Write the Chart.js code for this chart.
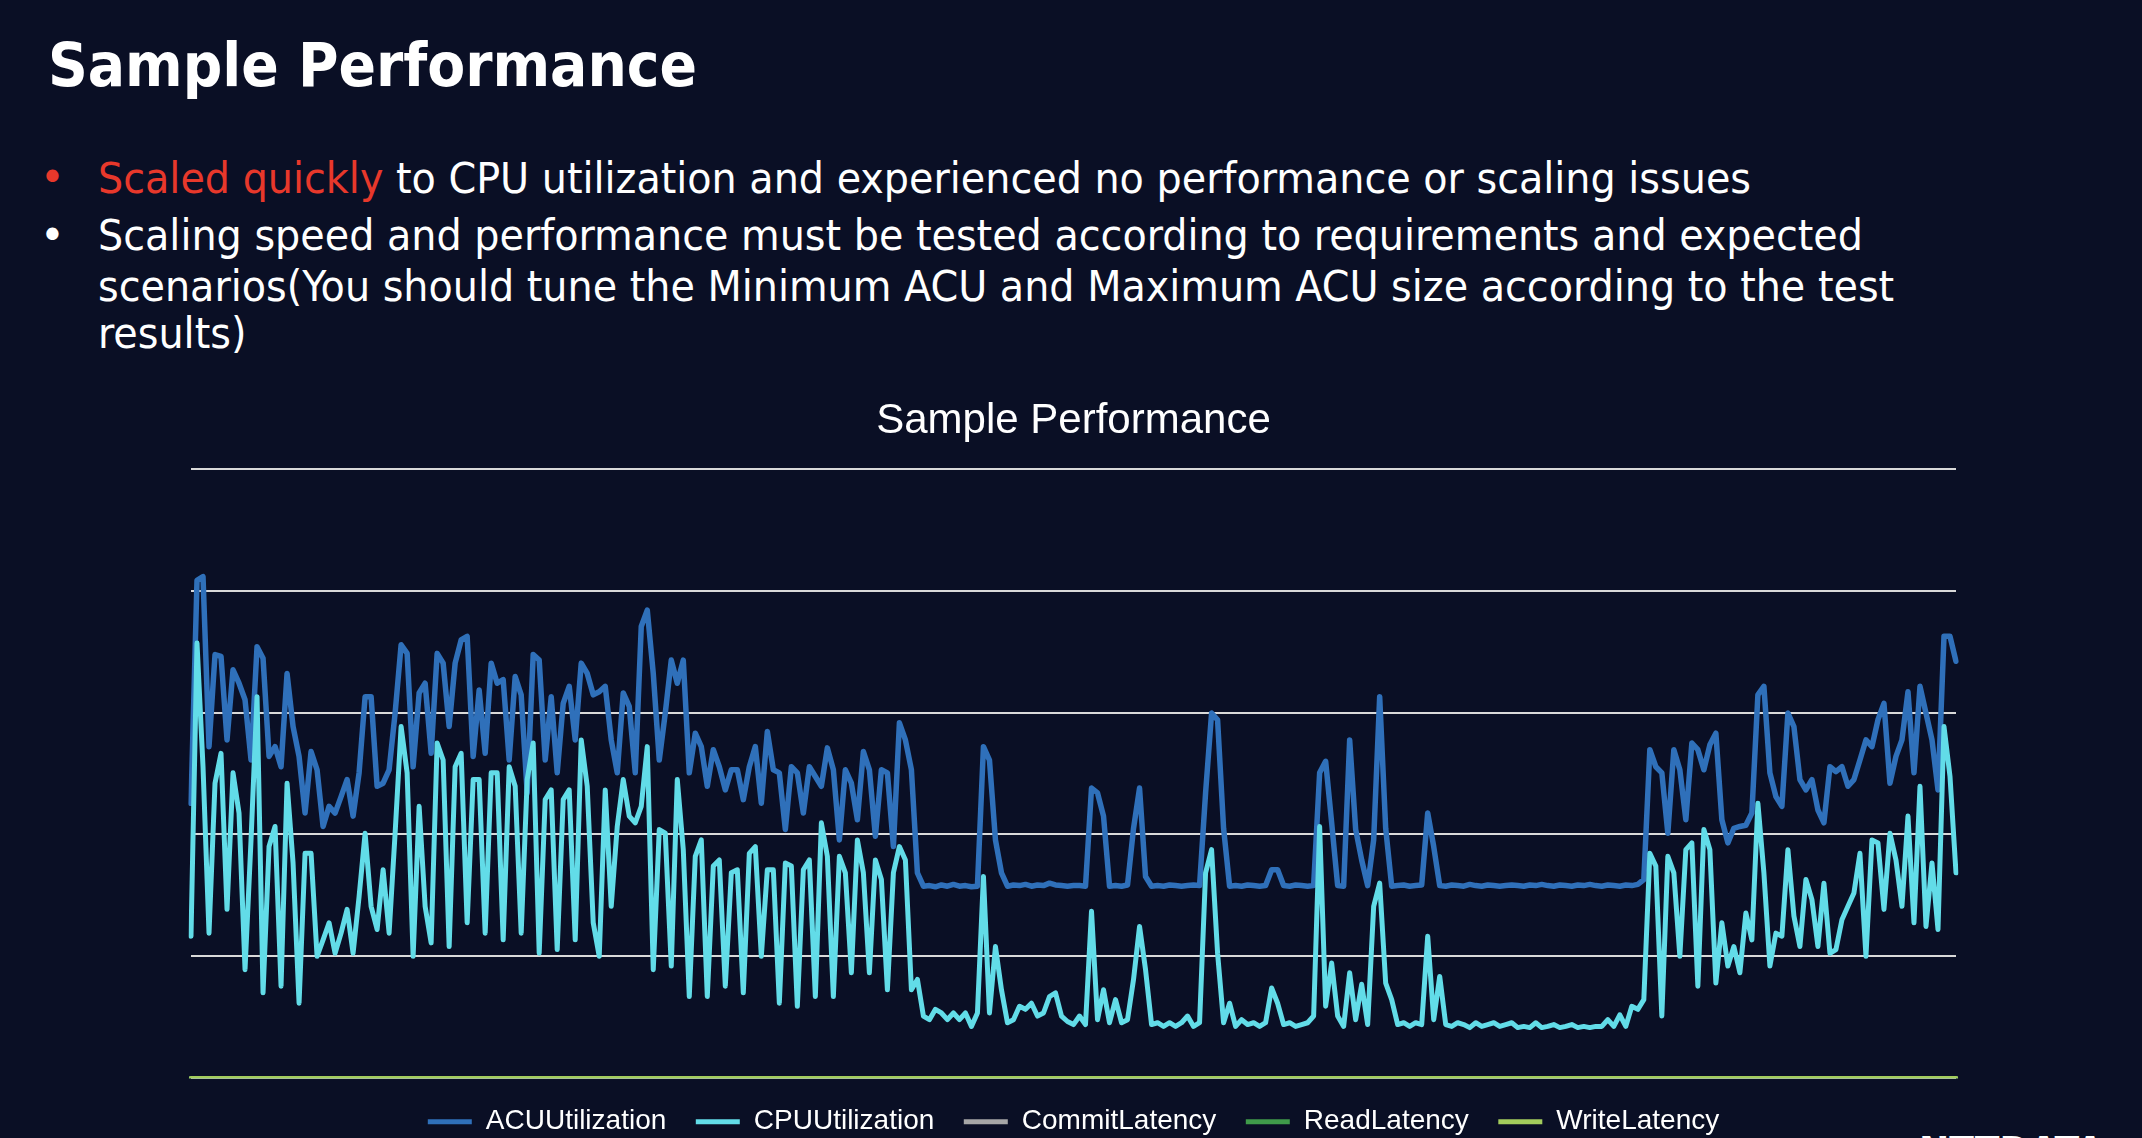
<!DOCTYPE html>
<html>
<head>
<meta charset="utf-8">
<script src="https://cdn.jsdelivr.net/npm/chart.js@4"></script>
<style>
html,body{margin:0;padding:0;width:2142px;height:1138px;overflow:hidden;background:#0a0f25;}
.txt{position:absolute;white-space:nowrap;color:#ffffff;font-family:"DejaVu Sans Condensed","DejaVu Sans",sans-serif;font-stretch:condensed;line-height:1;transform-origin:0 0;}
#heading{left:48px;top:35px;font-weight:bold;font-size:60px;}
.line{left:98px;font-size:42px;}
.bullet{position:absolute;font-family:"DejaVu Sans",sans-serif;font-size:42px;line-height:1;left:40px;}
.red{color:#e8382b;}
#logo{left:1919px;top:1132px;font-weight:bold;font-size:40px;}
#chartWrap{position:absolute;left:0;top:370px;width:2142px;height:800px;}
</style>
</head>
<body>
<div id="heading" class="txt">Sample Performance</div>
<div class="bullet red" style="top:157px;">•</div>
<div id="l1" class="txt line" style="top:157.5px;"><span class="red">Scaled quickly</span> to CPU utilization and experienced no performance or scaling issues</div>
<div class="bullet" style="top:215px;color:#fff;">•</div>
<div id="l2" class="txt line" style="top:215px;">Scaling speed and performance must be tested according to requirements and expected</div>
<div id="l3" class="txt line" style="top:266px;">scenarios(You should tune the Minimum ACU and Maximum ACU size according to the test</div>
<div id="l4" class="txt line" style="top:312.5px;">results)</div>
<div id="logo" class="txt">NTTDATA</div>
<div id="chartWrap"><canvas id="chart"></canvas></div>
<script>
// Series values (0-100 scale, gridlines every 20)
const acuUtilization = [
45.1,81.7,82.3,54.4,69.5,69.2,55.5,67.0,64.8,62.1,
52.2,70.8,68.9,52.8,54.4,51.1,66.4,57.7,52.8,43.5,
53.6,50.6,41.3,44.6,43.5,46.2,49.0,43.0,50.1,62.6,
62.6,47.9,48.4,50.6,59.9,71.1,69.7,51.1,63.2,64.8,
53.3,69.7,68.1,57.7,68.1,71.9,72.5,52.8,63.7,53.3,
68.1,64.8,65.4,52.2,65.9,62.9,46.8,69.5,68.6,52.2,
62.6,50.1,61.5,64.3,55.5,68.1,66.4,62.9,63.4,64.3,
55.5,50.1,63.2,61.0,50.1,74.1,76.8,66.4,52.2,59.9,
68.6,64.8,68.6,50.1,56.6,54.4,47.9,53.9,51.1,47.3,
50.6,50.6,45.7,51.1,54.4,45.1,56.9,50.6,50.1,40.8,
51.1,50.1,43.5,51.1,49.5,47.9,54.2,50.6,39.1,50.6,
48.4,42.4,53.6,50.6,39.7,50.6,50.1,38.0,58.3,55.5,
50.6,33.7,31.5,31.6,31.4,31.7,31.5,31.8,31.5,31.6,
31.4,31.5,54.4,52.2,39.1,33.7,31.5,31.7,31.6,31.8,
31.5,31.7,31.6,32.0,31.7,31.6,31.5,31.6,31.6,31.5,
47.6,46.8,43.0,31.5,31.6,31.5,31.7,41.0,47.6,33.1,
31.5,31.6,31.5,31.7,31.6,31.5,31.6,31.7,31.6,46.8,
59.9,58.8,41.0,31.5,31.6,31.5,31.7,31.6,31.5,31.6,
34.2,34.2,31.6,31.5,31.7,31.6,31.5,31.6,50.1,52.0,
41.9,31.6,31.5,55.5,40.8,35.8,31.6,39.1,62.6,41.0,
31.5,31.6,31.7,31.5,31.6,31.7,43.5,38.0,31.6,31.5,
31.7,31.6,31.5,31.8,31.6,31.5,31.7,31.6,31.5,31.6,
31.7,31.6,31.5,31.7,31.6,31.8,31.6,31.5,31.7,31.6,
31.5,31.7,31.6,31.8,31.6,31.5,31.7,31.6,31.5,31.7,
31.6,31.8,32.6,53.9,51.1,50.1,40.2,53.9,50.6,42.4,
55.0,53.9,50.6,54.7,56.6,42.4,38.6,41.0,41.3,41.5,
43.5,62.9,64.3,50.1,46.2,44.6,59.9,57.7,49.0,47.3,
49.0,44.0,41.9,51.1,50.3,51.1,47.9,49.0,52.2,55.5,
54.4,58.8,61.5,48.4,52.8,55.5,63.4,50.1,64.3,59.9,
55.5,47.3,72.5,72.5,68.4
];
const cpuUtilization = [
23.3,71.4,51.1,23.8,48.4,53.3,27.7,50.1,43.5,17.8,
39.1,62.6,14.0,38.0,41.3,15.1,48.4,35.3,12.3,36.9,
36.9,20.0,22.7,25.5,20.5,23.8,27.7,20.5,29.8,40.2,
28.2,24.4,34.2,23.8,40.2,57.7,50.1,20.0,44.6,28.2,
22.2,55.0,52.2,21.6,51.1,53.3,25.5,49.0,49.0,23.8,
50.1,50.1,22.7,51.1,47.9,23.8,49.0,55.0,20.5,45.7,
47.3,21.1,45.7,47.3,22.7,55.5,47.9,25.5,20.0,47.3,
28.2,41.3,49.0,43.0,41.9,44.6,54.4,17.8,40.8,40.2,
18.4,49.0,37.5,13.4,36.4,39.1,13.4,34.8,35.8,15.1,
33.7,34.2,14.0,36.9,38.0,20.0,34.2,34.2,12.3,35.3,
34.8,11.8,34.2,35.8,13.4,41.9,36.4,13.4,36.4,33.7,
17.3,39.1,33.7,17.3,35.8,32.6,14.5,33.7,38.0,35.8,
14.5,16.2,10.2,9.6,11.3,10.7,9.6,10.7,9.6,10.7,
8.5,10.7,33.1,10.7,21.6,14.5,9.1,9.6,11.8,11.3,
12.3,10.2,10.7,13.4,14.0,10.2,9.3,8.8,10.2,8.8,
27.4,9.6,14.5,9.1,12.9,9.1,9.6,16.2,24.9,17.8,
8.8,9.1,8.5,9.1,8.5,9.1,10.2,8.5,9.1,33.7,
37.5,20.5,9.1,12.3,8.5,9.6,8.8,9.1,8.5,9.1,
14.8,12.3,8.8,9.1,8.5,8.8,9.1,10.2,41.3,11.8,
18.9,10.2,8.5,17.3,9.6,15.4,8.8,28.2,32.0,15.6,
12.9,8.8,9.1,8.5,9.1,8.8,23.3,9.6,16.7,8.8,
8.5,9.1,8.8,8.3,9.1,8.5,8.8,9.1,8.5,8.8,
9.1,8.3,8.5,8.3,9.1,8.3,8.5,8.8,8.3,8.5,
8.8,8.3,8.5,8.3,8.5,8.5,9.6,8.5,10.4,8.5,
11.8,11.3,12.9,36.9,34.8,10.2,36.4,33.7,20.0,37.5,
38.6,15.1,40.8,37.5,15.6,25.5,18.4,21.6,17.3,27.1,
22.7,45.1,33.7,18.4,23.8,23.3,37.5,26.6,21.6,32.6,
29.3,21.6,32.0,20.5,21.1,26.0,28.2,30.4,36.9,20.0,
39.1,38.6,27.7,40.2,35.8,28.2,43.0,25.5,47.9,24.9,
35.3,24.4,57.7,49.5,33.7
];
const commitLatency = [
0,0,0,0,0,0,0,0,0,0,0,0,0,0,0,0,0,0,0,0,0,0,0,0,0,0,0,0,0,0,0,0,0,0,0,0,0,0,0,0,0,0,0,0,0,0,0,0,0,0,
0,0,0,0,0,0,0,0,0,0,0,0,0,0,0,0,0,0,0,0,0,0,0,0,0,0,0,0,0,0,0,0,0,0,0,0,0,0,0,0,0,0,0,0,0,0,0,0,0,0,
0,0,0,0,0,0,0,0,0,0,0,0,0,0,0,0,0,0,0,0,0,0,0,0,0,0,0,0,0,0,0,0,0,0,0,0,0,0,0,0,0,0,0,0,0,0,0,0,0,0,
0,0,0,0,0,0,0,0,0,0,0,0,0,0,0,0,0,0,0,0,0,0,0,0,0,0,0,0,0,0,0,0,0,0,0,0,0,0,0,0,0,0,0,0,0,0,0,0,0,0,
0,0,0,0,0,0,0,0,0,0,0,0,0,0,0,0,0,0,0,0,0,0,0,0,0,0,0,0,0,0,0,0,0,0,0,0,0,0,0,0,0,0,0,0,0,0,0,0,0,0,
0,0,0,0,0,0,0,0,0,0,0,0,0,0,0,0,0,0,0,0,0,0,0,0,0,0,0,0,0,0,0,0,0,0,0,0,0,0,0,0,0,0,0,0,0
];
const readLatency = [
0,0,0,0,0,0,0,0,0,0,0,0,0,0,0,0,0,0,0,0,0,0,0,0,0,0,0,0,0,0,0,0,0,0,0,0,0,0,0,0,0,0,0,0,0,0,0,0,0,0,
0,0,0,0,0,0,0,0,0,0,0,0,0,0,0,0,0,0,0,0,0,0,0,0,0,0,0,0,0,0,0,0,0,0,0,0,0,0,0,0,0,0,0,0,0,0,0,0,0,0,
0,0,0,0,0,0,0,0,0,0,0,0,0,0,0,0,0,0,0,0,0,0,0,0,0,0,0,0,0,0,0,0,0,0,0,0,0,0,0,0,0,0,0,0,0,0,0,0,0,0,
0,0,0,0,0,0,0,0,0,0,0,0,0,0,0,0,0,0,0,0,0,0,0,0,0,0,0,0,0,0,0,0,0,0,0,0,0,0,0,0,0,0,0,0,0,0,0,0,0,0,
0,0,0,0,0,0,0,0,0,0,0,0,0,0,0,0,0,0,0,0,0,0,0,0,0,0,0,0,0,0,0,0,0,0,0,0,0,0,0,0,0,0,0,0,0,0,0,0,0,0,
0,0,0,0,0,0,0,0,0,0,0,0,0,0,0,0,0,0,0,0,0,0,0,0,0,0,0,0,0,0,0,0,0,0,0,0,0,0,0,0,0,0,0,0,0
];
const writeLatency = [
0,0,0,0,0,0,0,0,0,0,0,0,0,0,0,0,0,0,0,0,0,0,0,0,0,0,0,0,0,0,0,0,0,0,0,0,0,0,0,0,0,0,0,0,0,0,0,0,0,0,
0,0,0,0,0,0,0,0,0,0,0,0,0,0,0,0,0,0,0,0,0,0,0,0,0,0,0,0,0,0,0,0,0,0,0,0,0,0,0,0,0,0,0,0,0,0,0,0,0,0,
0,0,0,0,0,0,0,0,0,0,0,0,0,0,0,0,0,0,0,0,0,0,0,0,0,0,0,0,0,0,0,0,0,0,0,0,0,0,0,0,0,0,0,0,0,0,0,0,0,0,
0,0,0,0,0,0,0,0,0,0,0,0,0,0,0,0,0,0,0,0,0,0,0,0,0,0,0,0,0,0,0,0,0,0,0,0,0,0,0,0,0,0,0,0,0,0,0,0,0,0,
0,0,0,0,0,0,0,0,0,0,0,0,0,0,0,0,0,0,0,0,0,0,0,0,0,0,0,0,0,0,0,0,0,0,0,0,0,0,0,0,0,0,0,0,0,0,0,0,0,0,
0,0,0,0,0,0,0,0,0,0,0,0,0,0,0,0,0,0,0,0,0,0,0,0,0,0,0,0,0,0,0,0,0,0,0,0,0,0,0,0,0,0,0,0,0
];
// Sample index categories (x axis is not labelled in the reference)
const sampleLabels = acuUtilization.map((v, i) => String(i + 1));
const yTicks = [0, 20, 40, 60, 80, 100];
const seriesNames = ['ACUUtilization', 'CPUUtilization', 'CommitLatency', 'ReadLatency', 'WriteLatency'];
const chartTitle = 'Sample Performance';

// Fit the slide text widths to the reference
function fitWidth(el, target) {
  const w = el.getBoundingClientRect().width;
  const s = target / w;
  el.style.transform = 'scaleX(' + s + ')';
  return s;
}
fitWidth(document.getElementById('heading'), 649);
const s1 = fitWidth(document.getElementById('l1'), 1653);
['l2', 'l3', 'l4'].forEach(id => { document.getElementById(id).style.transform = 'scaleX(' + s1 + ')'; });
fitWidth(document.getElementById('logo'), 185);

const colors = ['#2f70ba', '#62dce8', '#a6a6a6', '#3f9a4a', '#a3cc5c'];
const seriesData = [acuUtilization, cpuUtilization, commitLatency, readLatency, writeLatency];
const widths = [5.5, 5, 4.5, 4.5, 4.5];

new Chart(document.getElementById('chart'), {
  type: 'line',
  data: {
    labels: sampleLabels,
    datasets: seriesNames.map((name, i) => ({
      label: name,
      data: seriesData[i],
      borderColor: colors[i],
      backgroundColor: colors[i],
      borderWidth: widths[i],
      pointRadius: 0,
      pointHoverRadius: 0,
      tension: 0,
      borderJoinStyle: 'round',
      borderCapStyle: 'round',
      fill: false,
      order: 5 - i
    }))
  },
  options: {
    responsive: true,
    maintainAspectRatio: false,
    animation: false,
    devicePixelRatio: 1,
    layout: { padding: { left: 191, right: 186, top: 0, bottom: 24.3 } },
    plugins: {
      title: {
        display: true,
        text: chartTitle,
        color: '#ffffff',
        font: { family: '"Liberation Sans", Arial, sans-serif', size: 42, weight: 'normal' },
        padding: { top: 26, bottom: 22.3 }
      },
      legend: {
        display: true,
        position: 'bottom',
        labels: {
          color: '#ffffff',
          font: { family: '"Liberation Sans", Arial, sans-serif', size: 28 },
          boxWidth: 44,
          boxHeight: 5,
          padding: 29.5,
          sort: (a, b) => a.datasetIndex - b.datasetIndex,
          generateLabels: (chart) => Chart.defaults.plugins.legend.labels.generateLabels(chart)
            .map(l => Object.assign({}, l, { fillStyle: l.strokeStyle, lineWidth: 0 }))
        }
      },
      tooltip: { enabled: false }
    },
    scales: {
      x: { display: false },
      y: {
        min: yTicks[0],
        max: yTicks[yTicks.length - 1],
        afterBuildTicks: (axis) => { axis.ticks = yTicks.map(v => ({ value: v })); },
        ticks: { display: false },
        grid: { color: '#d9d9d9', lineWidth: 2, drawTicks: false },
        border: { display: false }
      }
    }
  }
});
</script>
</body>
</html>
